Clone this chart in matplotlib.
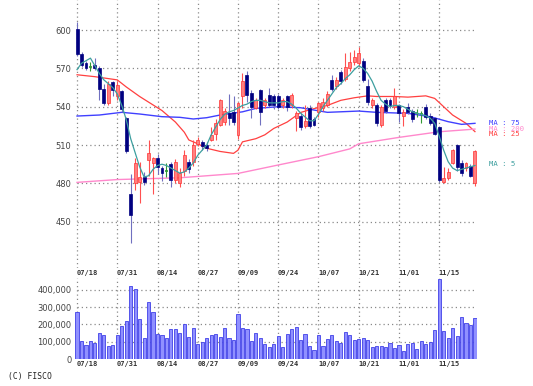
import matplotlib
matplotlib.use("Agg")
import matplotlib.pyplot as plt
import matplotlib.transforms as mtransforms
from matplotlib.ticker import FuncFormatter

##############################################################################
# Dados (90 pregoes)
datas = ["07/18", "07/31", "08/14", "08/27", "09/09",
         "09/24", "10/07", "10/21", "11/01", "11/15"]
datas_idx = [0, 9, 18, 27, 36, 45, 54, 63, 72, 81]

abertura = [601, 581, 574, 571, 573, 570, 554, 543, 559, 548,
            552, 531, 472, 480, 481, 485, 498, 496, 500, 492,
            490, 495, 483, 480, 490, 497, 497, 511, 512, 510,
            514, 519, 526, 528, 535, 536, 518, 548, 565, 551,
            539, 553, 541, 549, 548, 548, 541, 548, 541, 531,
            533, 525, 539, 530, 536, 539, 541, 561, 556, 567,
            562, 570, 575, 574, 576, 556, 541, 541, 526, 545,
            545, 540, 541, 533, 540, 537, 535, 534, 540, 533,
            531, 524, 481, 484, 496, 510, 496, 492, 494, 480]
maxima = [606, 583, 576, 575, 578, 572, 558, 560, 560, 560,
          553, 532, 487, 500, 497, 489, 514, 501, 503, 494,
          496, 497, 499, 492, 506, 499, 514, 516, 514, 512,
          524, 530, 546, 539, 550, 548, 544, 566, 568, 553,
          547, 554, 547, 555, 550, 550, 547, 549, 551, 537,
          535, 541, 541, 532, 544, 547, 552, 565, 563, 569,
          582, 583, 584, 587, 578, 562, 547, 543, 541, 547,
          547, 555, 542, 538, 543, 538, 538, 537, 542, 535,
          532, 525, 493, 492, 507, 511, 498, 497, 495, 506]
minima = [580, 571, 569, 568, 569, 545, 541, 541, 548, 545,
          536, 504, 433, 475, 465, 479, 486, 472, 487, 482,
          485, 477, 480, 477, 486, 488, 494, 509, 506, 505,
          513, 514, 525, 526, 526, 526, 515, 539, 544, 531,
          538, 526, 539, 540, 538, 538, 539, 537, 539, 521,
          522, 523, 523, 525, 532, 537, 540, 552, 554, 558,
          560, 568, 573, 572, 559, 541, 539, 525, 524, 535,
          539, 538, 528, 525, 534, 528, 532, 527, 530, 526,
          518, 481, 480, 483, 495, 490, 486, 490, 485, 478]
fechamento = [581, 573, 570, 571, 570, 554, 543, 558, 553, 557,
              538, 505, 455, 496, 485, 481, 504, 500, 493, 488,
              490, 483, 497, 488, 502, 491, 510, 514, 509, 508,
              518, 527, 545, 537, 531, 528, 543, 560, 549, 540,
              545, 536, 545, 541, 541, 540, 545, 540, 549, 535,
              524, 529, 525, 526, 543, 544, 550, 554, 561, 560,
              571, 575, 579, 582, 561, 544, 545, 527, 540, 537,
              541, 548, 535, 536, 536, 530, 535, 534, 532, 527,
              519, 483, 484, 489, 506, 493, 488, 496, 486, 505]

volume = [270000, 105000, 84000, 103000, 94000, 153000, 141000, 76000, 84000, 138000,
          190000, 222000, 421000, 404000, 233000, 122000, 329000, 272000, 145000, 141000,
          124000, 176000, 176000, 153000, 205000, 128000, 182000, 86000, 101000, 124000,
          138000, 144000, 130000, 182000, 121000, 111000, 259000, 178000, 172000, 107000,
          153000, 124000, 88000, 70000, 88000, 132000, 70000, 147000, 174000, 184000,
          113000, 147000, 78000, 53000, 138000, 78000, 115000, 141000, 103000, 94000,
          157000, 141000, 111000, 115000, 124000, 109000, 71000, 75000, 75000, 70000,
          92000, 65000, 84000, 48000, 88000, 94000, 57000, 103000, 86000, 99000,
          166000, 460000, 163000, 122000, 180000, 136000, 241000, 210000, 195000, 237000]

# medias moveis (valores lidos)
mm5 = [569, 574, 576, 578, 572, 566, 561, 558, 555, 550,
       541, 530, 515, 504, 493, 485, 486, 491, 494, 495,
       494, 492, 490, 488, 489, 492, 496, 502, 506, 510,
       518, 524, 530, 534, 536, 537, 539, 541, 542, 544,
       545, 545, 544, 543, 543, 543, 544, 544, 542, 539,
       535, 532, 529, 529, 534, 540, 545, 550, 555, 558,
       562, 565, 569, 572, 570, 566, 560, 552, 545, 542,
       540, 541, 541, 540, 538, 536, 535, 534, 533, 531,
       527, 517, 506, 497, 492, 490, 491, 492, 493, 494]
mm25_x = [0, 4, 9, 11, 14, 19, 22, 24, 25, 27, 29, 32, 35, 36, 37,
          40, 42, 44, 47, 50, 53, 56, 59, 62, 65, 67, 71, 74, 78, 80,
          82, 84, 87, 89]
mm25 = [565, 563.5, 561, 555.5, 548, 537, 528, 520, 514, 511, 507.5, 505, 503.5, 506, 512.5,
        515, 518, 523, 528, 535.5, 538.5, 541, 545, 547, 548.5, 548, 548, 547.5, 548.5, 546.5,
        540, 533.5, 527, 520.5]
mm75_x = [0, 5, 10, 14, 19, 23, 26, 29, 32, 37, 40, 45, 50, 56, 63, 67, 74, 79, 83, 86, 89]
mm75 = [532.7, 533.5, 535.6, 534.3, 532.2, 531.7, 530.4, 531.4, 533.5, 536, 538.7,
        540, 539.2, 535.6, 536.6, 535.6, 534.8, 532.2, 528.3, 526.2, 527]
mm200_x = [0, 9, 23, 36, 45, 54, 61, 63, 72, 81, 89]
mm200 = [480.8, 483, 484.4, 487.8, 494.4, 500.9, 507, 511, 516, 520.4, 522.5]

##############################################################################
# Funcoes auxiliares
W, H = 533, 386

def linha_pontilhada(ax, orient, pos, ini=None, fim=None):
    estilo = dict(color="#8a8a8a", lw=0.9, linestyle=(0, (1, 2.4)), zorder=0)
    if orient == "h":
        ax.plot([ini, fim], [pos, pos], **estilo)
    else:
        ax.axvline(pos, **estilo)

def limpa_eixo(ax):
    for s in ax.spines.values():
        s.set_visible(False)
    ax.set_xticks([])
    ax.set_xlim(-0.5, 89.5)
    ax.tick_params(axis="y", length=0, pad=2.5, labelsize=6, labelcolor="#444444")

def desenha_velas(ax):
    for i in range(len(abertura)):
        o, h, l, c = abertura[i], maxima[i], minima[i], fechamento[i]
        if c > o:
            pavio, corpo, borda = "#ff5050", "#ff8080", "#ff3333"
        elif c < o:
            pavio, corpo, borda = "#7070c0", "#000080", "#000080"
        else:
            pavio, corpo, borda = "#339933", "#339933", "#339933"
        ax.vlines(i, l, h, color=pavio, lw=0.8, zorder=3)
        if c == o:
            ax.hlines(o, i - 0.33, i + 0.33, color=corpo, lw=1.2, zorder=4)
        else:
            ax.bar(i, abs(c - o), bottom=min(o, c), width=0.66,
                   color=corpo, edgecolor=borda, lw=0.5, zorder=4)

##############################################################################

fig = plt.figure(figsize=(W / 100, H / 100), dpi=100)
esq = 74.8 / W
larg = 402.4 / W
ax = fig.add_axes([esq, 1 - 268 / H, larg, 268 / H])
axv = fig.add_axes([esq, 1 - 359.3 / H, larg, 81.3 / H])

# grafico de precos
limpa_eixo(ax)
ax.set_ylim(413.8, 623.5)
ax.set_yticks([450, 480, 510, 540, 570, 600])
for v in [450, 480, 510, 540, 570, 600]:
    linha_pontilhada(ax, "h", v, 0, 89.5)
for i in datas_idx:
    linha_pontilhada(ax, "v", i)

desenha_velas(ax)
ax.plot(range(len(mm5)), mm5, color="#3d9f9f", lw=0.9, zorder=5)
ax.plot(mm25_x, mm25, color="#ff4040", lw=0.9, zorder=2)
ax.plot(mm75_x, mm75, color="#4040ff", lw=1.0, zorder=2)
ax.plot(mm200_x, mm200, color="#ff88cc", lw=1.0, zorder=2)

trans = mtransforms.blended_transform_factory(ax.transAxes, ax.transData)
rotulos = [("MA : 75", mm75[-1], "#4040ff"), ("MA : 200", mm200[-1], "#ff88cc"),
           ("MA : 25", mm25[-1] - 1.5, "#ff4040"), ("MA : 5", mm5[-1] + 1, "#3d9f9f")]
for txt, v, cor in rotulos:
    ax.text(1.03, v, txt, transform=trans, color=cor, fontsize=5.2,
            family="DejaVu Sans Mono", va="center", ha="left", clip_on=False)

# grafico de volume
limpa_eixo(axv)
axv.set_ylim(0, 467000)
axv.set_yticks([0, 100000, 200000, 300000, 400000])
axv.yaxis.set_major_formatter(FuncFormatter(lambda v, p: "{:,}".format(int(v))))
for v in [100000, 200000, 300000, 400000]:
    linha_pontilhada(axv, "h", v, 0, 89.5)
for i in datas_idx:
    linha_pontilhada(axv, "v", i)
axv.bar(range(len(volume)), volume, width=0.7, color="#9090ff",
        edgecolor="#4040e8", lw=0.6, zorder=3)

# datas
tr = mtransforms.blended_transform_factory(ax.transData, fig.transFigure)
for i, d in zip(datas_idx, datas):
    for y in [1 - 273 / H, 1 - 364 / H]:
        ax.text(i - 0.1, y, d, transform=tr, fontsize=5, family="DejaVu Sans Mono",
                weight="bold", color="#333333", ha="left", va="center", clip_on=False)

fig.text(8 / W, 1 - 377 / H, "(C) FISCO", fontsize=5.8, family="DejaVu Sans Mono",
         color="#222222", va="center", ha="left")

fig.savefig("out.png", dpi=100)
